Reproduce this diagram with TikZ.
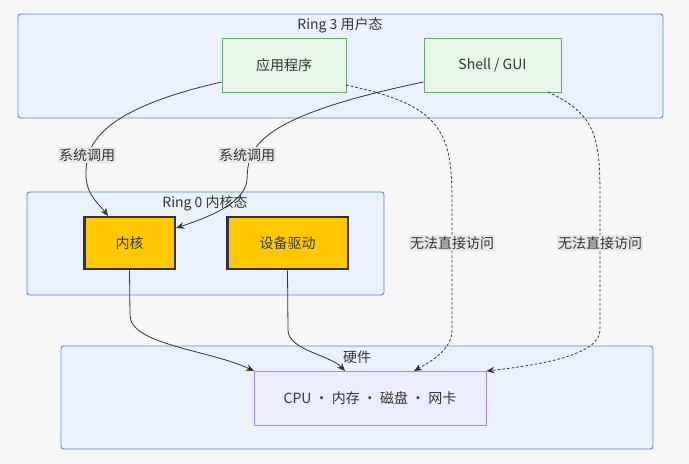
\documentclass[tikz,border=0pt]{standalone}
\usepackage{fontspec}
\setmainfont{Noto Sans CJK SC}
\usetikzlibrary{arrows.meta}
\definecolor{clfill}{HTML}{EAF1FB}
\definecolor{cldraw}{HTML}{5B87C5}
\definecolor{gfill}{HTML}{E8F5E9}
\definecolor{gdraw}{HTML}{6AA86E}
\definecolor{kfill}{HTML}{FFC800}
\definecolor{hfill}{HTML}{ECECFF}
\definecolor{hdraw}{HTML}{A98CE0}
\definecolor{lblbg}{HTML}{E8E8E8}
\definecolor{txt}{HTML}{333333}
\tikzset{
 cluster/.style={draw=cldraw,fill=clfill,rounded corners=2pt,line width=0.7pt},
 gbox/.style={draw=gdraw,fill=gfill,line width=0.7pt,text=txt,font=\fontsize{10.5}{12}\selectfont},
 kbox/.style={draw=txt,fill=kfill,line width=2pt,text=txt,font=\fontsize{10.5}{12}\selectfont},
 hbox/.style={draw=hdraw,fill=hfill,line width=0.7pt,text=txt,font=\fontsize{10.5}{12}\selectfont},
 ctitle/.style={text=txt,font=\fontsize{10.5}{12}\selectfont},
 elbl/.style={fill=lblbg,text=txt,inner sep=1pt,font=\fontsize{10.5}{12}\selectfont},
 edge/.style={draw=txt,line width=0.6pt,-{Stealth[length=6pt,width=5pt]}},
 dedge/.style={edge,dash pattern=on 2pt off 1.5pt},
}
\begin{document}
\begin{tikzpicture}[x=0.75pt,y=-0.75pt]
\fill[white!97!black] (0,0) rectangle (689,464);
\useasboundingbox (0,0) rectangle (689,464);
\draw[cluster] (18,14) rectangle (663,118);
\node[ctitle] (t3) at (340,25) {Ring 3 用户态};
\draw[cluster] (27,192) rectangle (384,295);
\node[ctitle] (t0) at (205,203) {Ring 0 内核态};
\draw[cluster] (61,346) rectangle (653,449);
\node[ctitle] (th) at (357,357) {硬件};
\node[gbox,minimum width=93pt,minimum height=40.5pt] (app) at (284,65) {应用程序};
\node[gbox,minimum width=102.75pt,minimum height=40.5pt] (sh) at (492.5,65) {Shell / GUI};
\node[kbox,minimum width=68pt,minimum height=39pt] (k) at (129.5,243) {内核};
\node[kbox,minimum width=90.5pt,minimum height=39pt] (d) at (287.5,243) {设备驱动};
\node[hbox,minimum width=174pt,minimum height=40.5pt] (hw) at (370,398) {CPU · 内存 · 磁盘 · 网卡};
\draw[edge] (app.west|-0,82) .. controls (90,112) and (86,150) .. (86,175) .. controls (86,195) and (100,205) .. (108,216);
\node[elbl] at (87,155) {系统调用};
\draw[edge] (sh.west|-0,82) .. controls (250,118) and (248,150) .. (247,180) .. controls (245,205) and (200,220) .. (k.east|-0,228);
\node[elbl] at (247,155) {系统调用};
\draw[dedge] (346,85) .. controls (440,105) and (452,130) .. (452,200) -- (452,330) .. controls (452,350) and (430,362) .. (414,371);
\node[elbl] at (452,243) {无法直接访问};
\draw[dedge] (548,92) .. controls (598,115) and (600,140) .. (600,200) -- (600,330) .. controls (600,355) and (540,365) .. (hw.east|-0,371);
\node[elbl] at (600,243) {无法直接访问};
\draw[edge] (k.south) -- (130,315) .. controls (130,345) and (210,350) .. (254,371);
\draw[edge] (d.south) -- (288,330) .. controls (288,350) and (330,355) .. (345,371);
\end{tikzpicture}
\end{document}
